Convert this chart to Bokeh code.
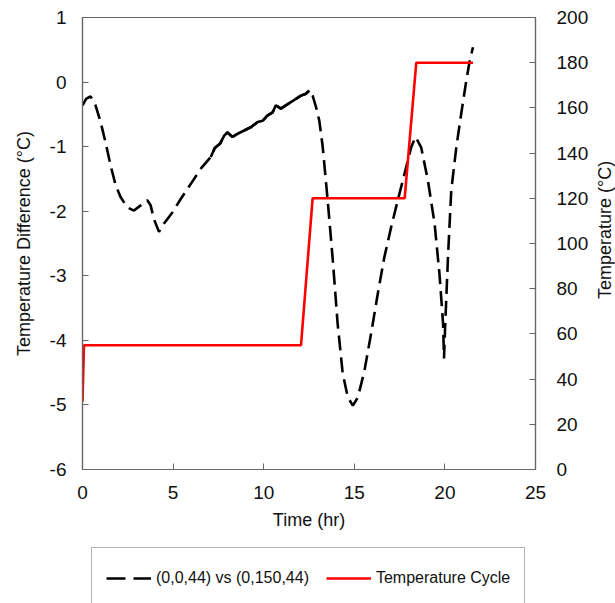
from bokeh.plotting import figure
from bokeh.layouts import column, row
from bokeh.models import (Range1d, LinearAxis, SingleIntervalTicker, Legend,
                          LegendItem, ColumnDataSource, NumeralTickFormatter)
from bokeh.core.properties import value
from bokeh.embed import file_html
from bokeh.resources import INLINE
import numpy as np

# temperature difference (0,0,44) vs (0,150,44)
diff_time = [0.0, 0.04, 0.2, 0.44, 0.72, 1.0, 1.27, 1.55, 1.83, 2.1, 2.47,
             2.84, 3.21, 3.58, 3.76, 3.94, 4.22, 4.5, 4.96, 5.42, 5.97, 6.53,
             7.08, 7.3, 7.6, 7.82, 8.0, 8.28, 8.56, 8.92, 9.29, 9.66, 9.94,
             10.2, 10.49, 10.67, 10.95, 11.22, 11.5, 11.78, 12.06, 12.33,
             12.52, 12.7, 12.89, 13.07, 13.26, 13.53, 13.8, 14.08, 14.36,
             14.64, 14.92, 15.2, 15.56, 15.93, 16.3, 16.66, 17.03, 17.4,
             17.77, 18.14, 18.38, 18.69, 19.06, 19.43, 19.7, 19.9, 19.95,
             20.02, 20.17, 20.35, 20.63, 20.9, 21.18, 21.37, 21.55]
diff_value = [-0.36, -0.34, -0.26, -0.22, -0.36, -0.62, -0.93, -1.29, -1.6,
              -1.78, -1.94, -1.99, -1.91, -1.83, -1.91, -2.12, -2.32, -2.19,
              -2.02, -1.81, -1.58, -1.34, -1.16, -1.02, -0.95, -0.83, -0.78,
              -0.85, -0.8, -0.75, -0.7, -0.62, -0.6, -0.52, -0.47, -0.36,
              -0.41, -0.36, -0.31, -0.26, -0.21, -0.18, -0.13, -0.21, -0.39,
              -0.6, -1.01, -1.83, -2.71, -3.74, -4.51, -4.88, -5.01, -4.88,
              -4.47, -3.89, -3.27, -2.71, -2.25, -1.83, -1.42, -1.01, -0.85,
              -1.01, -1.52, -2.19, -2.97, -3.74, -4.28, -3.74, -2.71, -1.68,
              -1.01, -0.49, 0.02, 0.33, 0.54]

# temperature cycle (right axis)
cycle_time = [0.0, 0.08, 12.06, 12.7, 17.78, 18.42, 21.55]
cycle_temp = [30, 55, 55, 120, 120, 180, 180]

FONT = "Liberation Sans"
AXIS_GREY = "#666666"
TEXT = "#111111"

p = figure(width=593, height=540, output_backend="svg", toolbar_location=None,
           x_range=Range1d(0, 25), y_range=Range1d(-6, 1),
           min_border_left=82, min_border_right=58, min_border_top=17,
           min_border_bottom=71)
p.extra_y_ranges = {"temp": Range1d(0, 200)}
p.xgrid.visible = False
p.ygrid.visible = False
p.outline_line_color = AXIS_GREY
p.outline_line_width = 1.2

# slow, noisy stretch looks solid in the original, steep parts dashed
t = np.array(diff_time)
v = np.array(diff_value)
slow = (t >= 7.0) & (t <= 12.6)
p.line(t, v, line_color="black", line_width=2.6, line_dash="15 7")
p.line(t[slow], v[slow], line_color="black", line_width=2.6)
p.line(cycle_time, cycle_temp, y_range_name="temp",
       line_color="#ff0000", line_width=2.6)

right = LinearAxis(y_range_name="temp", ticker=SingleIntervalTicker(interval=20))
p.add_layout(right, "right")

p.xaxis.ticker = SingleIntervalTicker(interval=5)
p.yaxis[0].ticker = SingleIntervalTicker(interval=1)
p.yaxis[0].formatter = NumeralTickFormatter(format="0")
p.xaxis.axis_label = "Time (hr)"
p.yaxis[0].axis_label = "Temperature Difference (°C)"

for ax in p.xaxis + p.yaxis:
    ax.axis_line_color = AXIS_GREY
    ax.axis_line_width = 1.2
    ax.major_tick_line_color = AXIS_GREY
    ax.major_tick_in = 6
    ax.major_tick_out = 0
    ax.minor_tick_line_color = None
    ax.major_label_text_font = FONT
    ax.major_label_text_font_size = "19px"
    ax.major_label_text_color = TEXT
    ax.axis_label_text_font = FONT
    ax.axis_label_text_font_size = "18px"
    ax.axis_label_text_font_style = "normal"
    ax.axis_label_text_color = TEXT

p.yaxis[0].major_label_standoff = 12
p.yaxis[0].axis_label_standoff = 13
right.major_label_standoff = 17
p.xaxis.major_label_standoff = 12
p.xaxis.axis_label_standoff = 8

# right axis title, reading upwards like the left one
r = figure(width=22, height=540, output_backend="svg", toolbar_location=None,
           x_range=Range1d(0, 1), y_range=Range1d(0, 1),
           x_axis_type=None, y_axis_type=None, min_border_left=0,
           min_border_right=0, min_border_top=17, min_border_bottom=71)
r.xgrid.visible = False
r.ygrid.visible = False
r.outline_line_color = None
r.text(x=[0.5], y=[0.53], text=["Temperature (°C)"], angle=np.pi / 2,
       text_align="center", text_baseline="middle", text_color=TEXT,
       text_font=value(FONT), text_font_size="18px")

# legend strip under the chart
q = figure(width=593, height=63, output_backend="svg", toolbar_location=None,
           x_range=Range1d(0, 1), y_range=Range1d(0, 1),
           x_axis_type=None, y_axis_type=None, min_border=0)
q.xgrid.visible = False
q.ygrid.visible = False
q.outline_line_color = None

# sample lines kept outside the visible range, only their legend glyphs show
off = ColumnDataSource(data=dict(x=[5, 6], y=[5, 6]))
leg_dash = q.line("x", "y", source=off, line_color="black", line_width=2.6,
                  line_dash="19 8")
leg_red = q.line("x", "y", source=off, line_color="#ff0000", line_width=2.6)

legend = Legend(items=[LegendItem(label="(0,0,44) vs (0,150,44)", renderers=[leg_dash]),
                       LegendItem(label="Temperature Cycle", renderers=[leg_red])],
                orientation="horizontal", location=(9, -6),
                border_line_color=AXIS_GREY, border_line_width=1.2,
                label_text_font=FONT, label_text_font_size="16px",
                label_text_color=TEXT,
                glyph_width=45, glyph_height=32, label_height=32,
                label_standoff=5, spacing=17, padding=14, margin=0)
q.add_layout(legend, "center")

layout = row(column(p, q, spacing=0), r, spacing=0)
open("out.html", "w").write(file_html(layout, INLINE))
